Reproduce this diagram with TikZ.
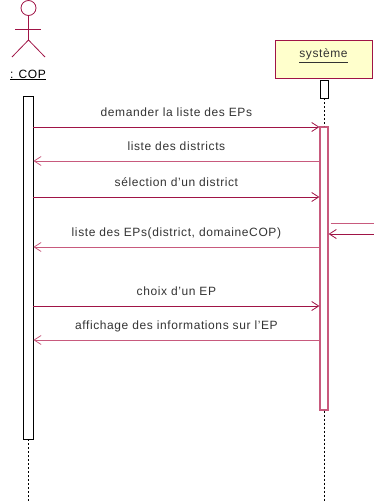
\documentclass[tikz,border=0pt]{standalone}
\usepackage{fontspec}
\setmainfont[LetterSpace=5]{Liberation Sans}
\usepackage{xcolor}
\usetikzlibrary{arrows.meta, positioning}

\definecolor{umlred}{RGB}{160,20,70}
\definecolor{umlpink}{RGB}{200,90,125}
\definecolor{umlyellow}{RGB}{255,255,204}

\begin{document}
\begin{tikzpicture}[
    x=1pt, y=-1pt,
    font=\fontsize{12}{14}\selectfont,
    actor/.style={umlred, line width=0.8pt},
    bar/.style={rectangle, draw, fill=white, inner sep=0pt},
    object/.style={rectangle, draw=umlred, fill=umlyellow, line width=0.8pt, minimum width=97pt, minimum height=38pt},
    lifeline/.style={dash pattern=on 2pt off 2pt, line width=0.7pt},
    msg/.style={umlred, line width=0.8pt, -{Straight Barb[length=7pt, width=9pt]}},
    reply/.style={umlpink, line width=0.8pt, -{Straight Barb[length=7pt, width=9pt]}},
    lbl/.style={above=7pt, inner sep=0pt, text height=9pt, text depth=3pt, black!80}
]

\useasboundingbox (0,0) rectangle (374,501);

% actor
\draw[actor] (28.5,8) circle (7.5pt);
\draw[actor] (28.5,15.5) -- (28.5,40);
\draw[actor] (15,29) -- (41,29);
\draw[actor] (12,57) -- (28.5,40) -- (45,57);
\node (cop) at (28,75) {\underline{: COP}};

% system
\node[object] (sys) at (323.5,59) {};
\node[below=6pt of sys.north, black!80] (systxt) {\underline{système}};

% lifelines
\node[bar, minimum width=10pt, minimum height=343pt, line width=0.8pt] (copbar) at (28,267.5) {};
\node[bar, minimum width=8pt, minimum height=18pt, line width=0.8pt] (sysinit) at (324,89) {};
\node[bar, draw=umlpink, minimum width=8pt, minimum height=283pt, line width=1.2pt] (sysbar) at (324,268.5) {};
\draw[lifeline] (copbar.south) -- (copbar.south |- 0,501);
\draw[lifeline] (sysinit.south) -- (sysbar.north);
\draw[lifeline] (sysbar.south) -- (sysbar.south |- 0,501);

% messages
\draw[msg] (copbar.east |- 0,127) -- node[lbl] {demander la liste des EPs} (sysbar.west |- 0,127);
\draw[reply] (sysbar.west |- 0,161) -- node[lbl] {liste des districts} (copbar.east |- 0,161);
\draw[msg] (copbar.east |- 0,197) -- node[lbl] {sélection d'un district} (sysbar.west |- 0,197);
\coordinate (selfout) at (374,223);
\coordinate (selfin) at (374,234);
\draw[umlpink, line width=0.8pt] (sysbar.east |- 0,223) ++(2,0) -- (selfout);
\draw[msg] (selfin) -- (sysbar.east |- 0,234);
\draw[reply] (sysbar.west |- 0,247) -- node[lbl] {liste des EPs(district, domaineCOP)} (copbar.east |- 0,247);
\draw[msg] (copbar.east |- 0,306) -- node[lbl] {choix d'un EP} (sysbar.west |- 0,306);
\draw[reply] (sysbar.west |- 0,340) -- node[lbl] {affichage des informations sur l'EP} (copbar.east |- 0,340);

\end{tikzpicture}
\end{document}
